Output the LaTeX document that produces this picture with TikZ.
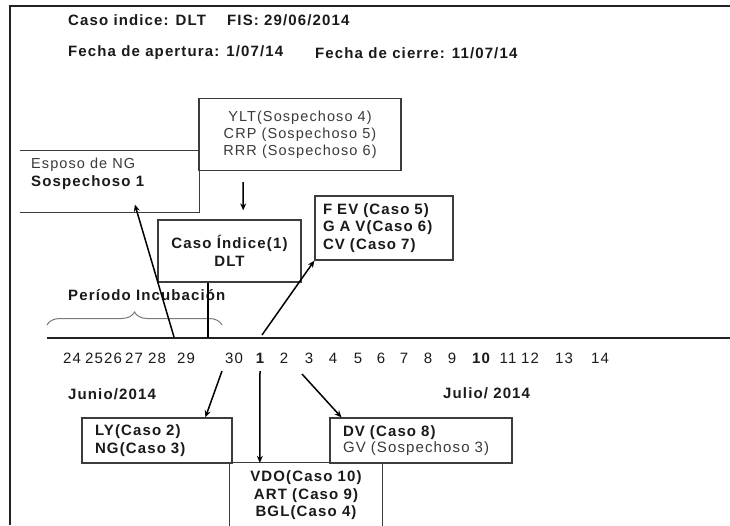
\documentclass[tikz,border=0pt]{standalone}
\usepackage{fontspec}
\setmainfont{Liberation Sans}[LetterSpace=7.5]
\usetikzlibrary{arrows.meta,decorations.pathreplacing,calc}
\definecolor{txt}{HTML}{1A1A1A}
\definecolor{txtg}{HTML}{3A3A3A}
\definecolor{boxc}{HTML}{3C3C3C}
\definecolor{tlc}{HTML}{222222}
\definecolor{bracec}{HTML}{7A7A7A}
\begin{document}
\begin{tikzpicture}[x=1pt,y=-1pt,
  box/.style={draw=boxc, line width=1.2pt, rectangle, inner sep=0pt},
  boxline/.style={draw=boxc, line width=1.2pt},
  bt/.style={font=\fontsize{15}{17.5}\selectfont\bfseries, text=txt},
  rt/.style={font=\fontsize{14.5}{16.8}\selectfont, text=txtg},
  lbl/.style={inner sep=0pt, anchor=west},
  arr/.style={line width=1.5pt, draw=black, -{Stealth[length=7pt,width=6pt]}},
  num/.style={font=\fontsize{15}{16}\selectfont, text=txt, inner sep=0pt}]
\useasboundingbox (0,0) rectangle (730,525);
\clip (0,0) rectangle (730,525);
\fill[white] (0,0) rectangle (730,525);
% frame
\coordinate (fbl) at (10,525);
\coordinate (ftl) at (10,6);
\coordinate (ftr) at (730,6);
\draw[line width=1.6pt, tlc] (fbl) -- (ftl) -- (ftr);
% header
\node[bt, lbl] (title1) at (68,20) {Caso indice: DLT};
\node[bt, lbl] (title2) at (227,20) {FIS: 29/06/2014};
\node[bt, lbl] (apert) at (68,53) {Fecha de apertura: 1/07/14};
\node[bt, lbl] (cierre) at (315,53) {Fecha de cierre: 11/07/14};
% upper boxes
\node[box, rt, align=center, minimum width=202pt, minimum height=72pt] (ylt) at (300,134.5)
  {YLT(Sospechoso 4)\\CRP (Sospechoso 5)\\RRR (Sospechoso 6)};
\node[inner sep=0pt, minimum width=179pt, minimum height=61pt] (esposo) at (109.5,181.5) {};
\draw[boxline] (esposo.north west) -- (esposo.north east);
\draw[boxline] (esposo.south west) -- (esposo.south east) -- (esposo.north east);
\node[rt, lbl] (esp1) at (31,165) {Esposo de NG};
\node[bt, lbl] (esp2) at (31,183) {Sospechoso 1};
\node[box, bt, align=center, minimum width=143pt, minimum height=62pt] (caso) at (229.5,251)
  {Caso Índice(1)\\DLT};
\node[box, bt, align=left, text width=122pt, inner xsep=8pt, minimum height=64pt] (fev) at (384,228)
  {F EV (Caso 5)\\G A V(Caso 6)\\CV (Caso 7)};
% incubation period
\node[bt, lbl] (periodo) at (68,295) {Período Incubación};
\coordinate (brl) at (47,325);
\coordinate (brr) at (222,325);
\draw[bracec, line width=1pt, decorate, decoration={brace, amplitude=13pt}] (brl) -- (brr);
% timeline
\coordinate (tl0) at (47,338);
\coordinate (tl1) at (730,338);
\draw[line width=2.3pt, tlc] (tl0) -- (tl1);
% day numbers
\foreach \d/\x in {24/72,25/94,26/113,27/134,28/157,29/186,30/234,2/284,3/309,4/333,5/358,6/381,7/404,8/428,9/452,11/508,12/530,13/564,14/600}
  \node[num] (d\d) at (\x,358) {\d};
\node[num, font=\fontsize{15}{16}\selectfont\bfseries] (d1) at (260,358) {1};
\node[num, font=\fontsize{15}{16}\selectfont\bfseries] (d10) at (481,358) {10};
\node[bt, lbl] (junio) at (68,394) {Junio/2014};
\node[bt, lbl] (julio) at (443,393) {Julio/ 2014};
% lower boxes
\node[box, bt, align=left, text width=124pt, inner xsep=13pt, minimum height=45pt] (ly) at (157,440.5)
  {LY(Caso 2)\\NG(Caso 3)};
\node[box, align=left, text width=156pt, inner xsep=13pt, minimum height=45pt,
  font=\fontsize{15}{16.5}\selectfont, text=txt] (dv) at (421,440.5)
  {\textbf{DV (Caso 8)}\\\textcolor{txtg}{GV (Sospechoso 3)}};
\node[inner sep=0pt, minimum width=152pt, minimum height=80pt] (vdo) at (306,503) {};
\draw[boxline] (vdo.south west) -- (vdo.north west) -- (vdo.north east) -- (vdo.south east);
\node[bt, align=center, inner sep=0pt] (vdot) at (306,495.5) {VDO(Caso 10)\\ART (Caso 9)\\BGL(Caso 4)};
% connectors above the timeline
\coordinate (s28) at (174,337);
\draw[arr, shorten >=-8pt] (s28) -- ($(esposo.south west)!0.654!(esposo.south east)$);
\coordinate (s29) at (208,338);
\draw[line width=1.6pt] (s29) -- (s29 |- caso.south);
\coordinate (s1) at (262,335);
\draw[arr] (s1) -- (fev.south west);
\draw[arr, shorten <=11pt, shorten >=9pt] ($(ylt.south west)!0.22!(ylt.south east)$) -- ($(caso.north west)!0.595!(caso.north east)$);
% connectors below the timeline
\coordinate (b30) at (222,371);
\draw[arr] (b30) -- ($(ly.north west)!0.82!(ly.north east)$);
\coordinate (b1) at (260,371);
\draw[arr] (b1) -- ($(vdo.north west)!0.197!(vdo.north east)$);
\coordinate (b3) at (302,374);
\draw[arr] (b3) -- ($(dv.north west)!0.066!(dv.north east)$);
\end{tikzpicture}
\end{document}
